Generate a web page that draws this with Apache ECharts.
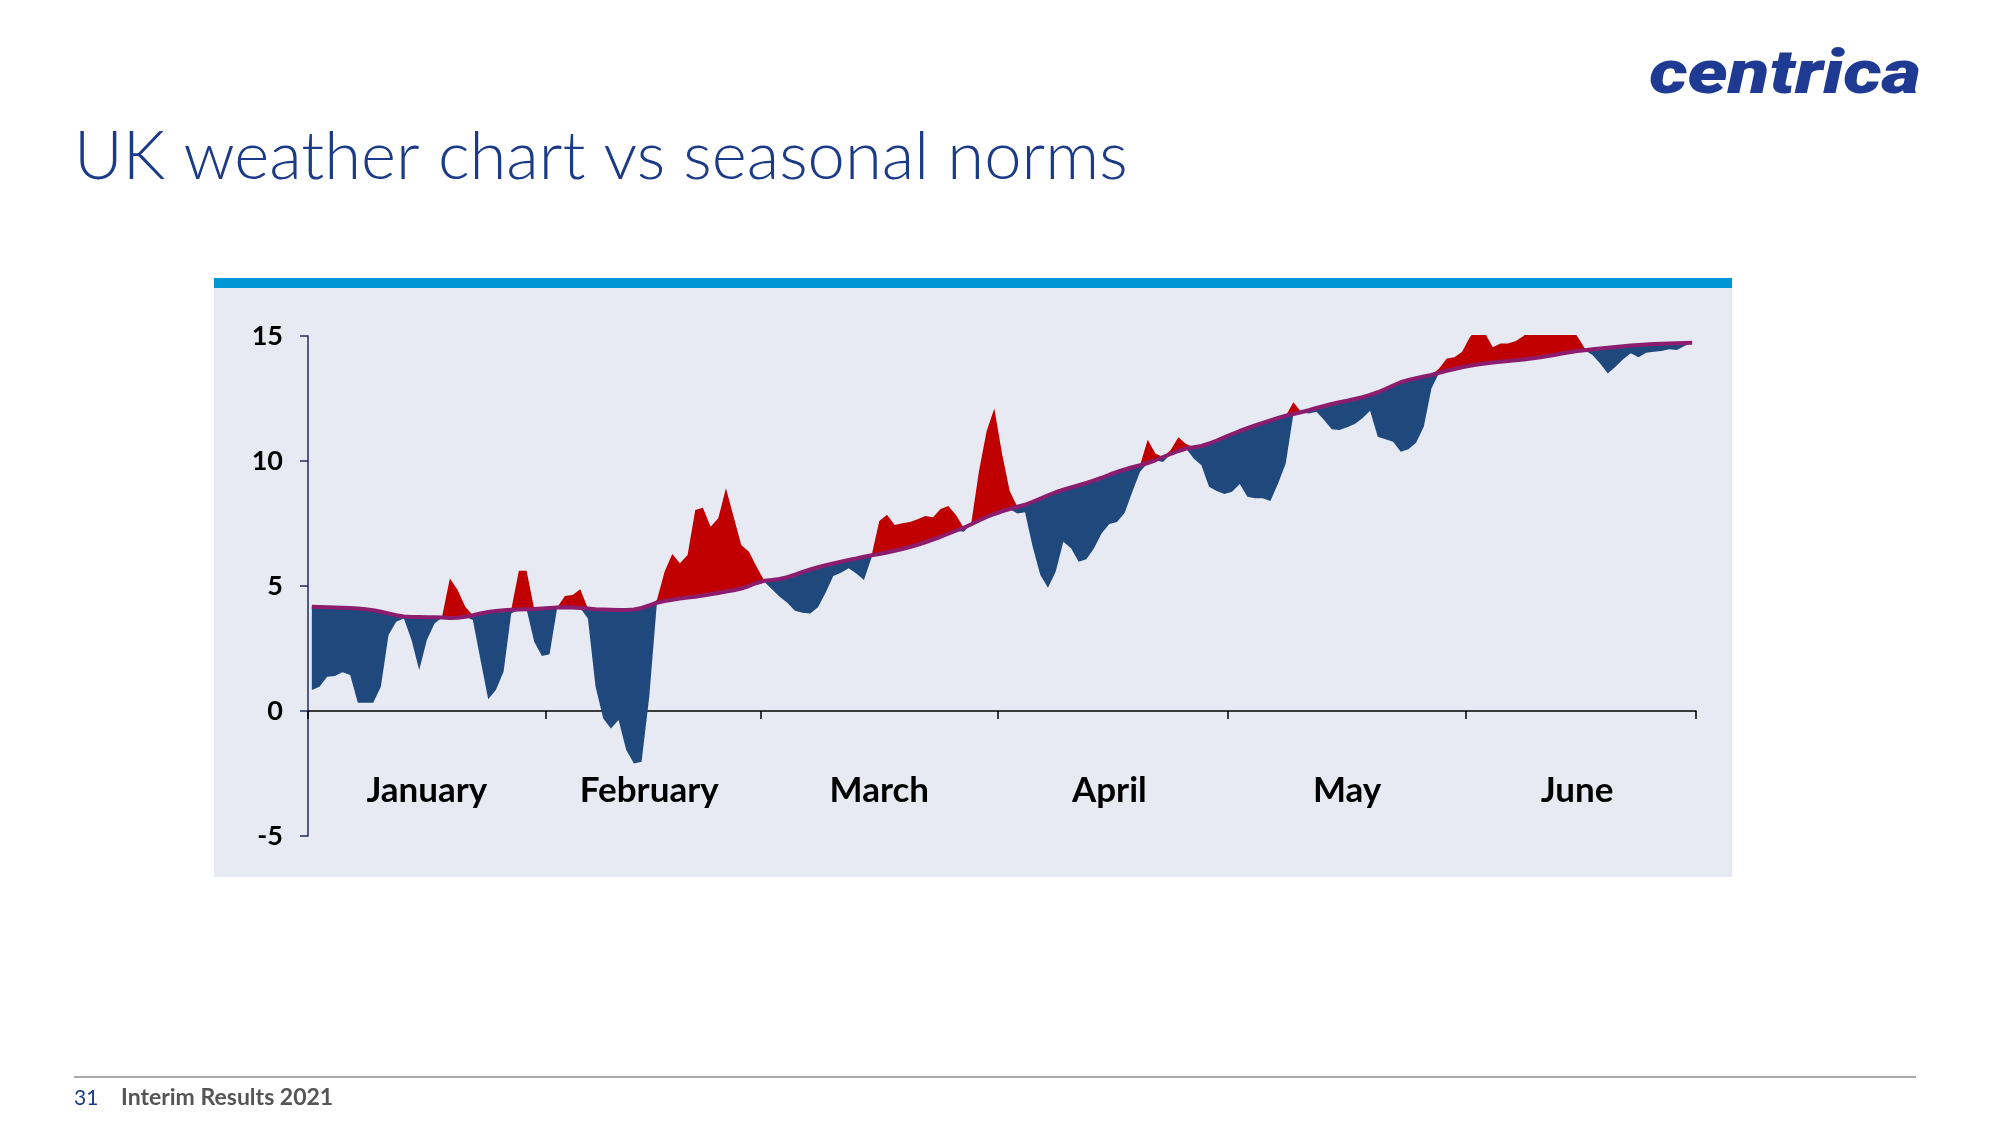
<!DOCTYPE html>
<html><head><meta charset="utf-8">
<script src="https://cdn.jsdelivr.net/npm/echarts@6/dist/echarts.min.js"></script>
<style>html,body{margin:0;padding:0;background:#fff}#c{width:2000px;height:1125px}</style>
</head><body><div id="c"></div>
<script>
const monthNames = ['January','February','March','April','May','June'];
const monthDays = [31, 28, 31, 30, 31, 30];
const yTicks = [-5, 0, 5, 10, 15];

// Seasonal norm (°C), one value per day, 1 Jan – 30 Jun
const norm = [
  4.17,4.16,4.15,4.14,4.13,4.12,4.10,4.07,4.03,3.97,
  3.90,3.83,3.78,3.76,3.76,3.75,3.75,3.74,3.72,3.73,
  3.77,3.83,3.90,3.96,4.00,4.03,4.05,4.06,4.07,4.08,
  4.10,4.12,4.14,4.15,4.14,4.12,4.10,4.07,4.06,4.05,
  4.04,4.04,4.06,4.12,4.22,4.33,4.40,4.45,4.50,4.54,
  4.57,4.62,4.67,4.72,4.78,4.83,4.90,5.00,5.12,5.21,
  5.24,5.28,5.35,5.45,5.56,5.66,5.75,5.83,5.90,5.97,
  6.04,6.10,6.17,6.23,6.28,6.34,6.41,6.48,6.56,6.65,
  6.75,6.86,6.97,7.09,7.21,7.33,7.47,7.62,7.76,7.88,
  7.99,8.08,8.17,8.25,8.37,8.50,8.63,8.75,8.85,8.94,
  9.03,9.12,9.22,9.33,9.45,9.56,9.66,9.75,9.83,9.92,
  10.03,10.16,10.28,10.40,10.50,10.55,10.60,10.70,10.82,10.95,
  11.08,11.20,11.31,11.42,11.52,11.62,11.72,11.81,11.88,11.95,
  12.03,12.12,12.20,12.28,12.35,12.41,12.48,12.55,12.64,12.75,
  12.88,13.02,13.15,13.24,13.31,13.38,13.44,13.53,13.61,13.68,
  13.75,13.81,13.86,13.90,13.94,13.97,14.00,14.03,14.06,14.10,
  14.14,14.19,14.24,14.30,14.35,14.40,14.43,14.47,14.50,14.53,
  14.56,14.59,14.62,14.64,14.66,14.68,14.69,14.70,14.71,14.72,14.73
];

// Actual daily temperature (°C)
const actual = [
  0.84,0.97,1.37,1.40,1.55,1.44,0.33,0.33,0.33,0.97,
  3.04,3.57,3.70,2.84,1.64,2.84,3.50,3.80,5.30,4.85,
  4.17,3.64,2.04,0.47,0.84,1.57,3.90,5.61,5.61,2.77,
  2.20,2.27,4.15,4.60,4.64,4.87,3.70,0.97,-0.30,-0.70,
  -0.36,-1.56,-2.10,-2.03,0.57,4.44,5.57,6.28,5.91,6.24,
  8.04,8.13,7.37,7.71,8.91,7.77,6.64,6.37,5.77,5.17,
  4.87,4.57,4.33,4.01,3.93,3.90,4.15,4.73,5.40,5.53,
  5.71,5.50,5.24,6.15,7.60,7.85,7.44,7.51,7.56,7.67,
  7.80,7.75,8.08,8.20,7.84,7.17,7.53,9.60,11.20,12.10,
  10.30,8.80,7.90,7.95,6.57,5.44,4.93,5.57,6.77,6.51,
  5.97,6.07,6.51,7.11,7.48,7.56,7.93,8.77,9.57,10.85,
  10.30,9.96,10.44,10.95,10.68,10.10,9.83,8.97,8.80,8.68,
  8.77,9.08,8.57,8.51,8.51,8.40,9.10,9.90,12.35,11.97,
  11.90,11.97,11.64,11.27,11.24,11.35,11.48,11.71,12.01,10.97,
  10.87,10.77,10.37,10.47,10.73,11.37,12.90,13.70,14.10,14.15,
  14.37,14.95,15.30,15.10,14.55,14.70,14.70,14.80,15.00,15.30,
  15.40,15.50,15.50,15.40,15.30,15.00,14.50,14.24,13.90,13.50,
  13.77,14.07,14.31,14.15,14.33,14.37,14.40,14.47,14.44,14.60,14.73
];

// build categories and month helpers
const days = [];
const monthStart = [];
const labelAt = {};
let acc = 0;
monthDays.forEach((len, m) => {
  monthStart.push(acc);
  labelAt[Math.floor(acc + len / 2 - 0.5)] = monthNames[m];
  for (let d = 1; d <= len; d++) days.push(d + ' ' + monthNames[m].slice(0, 3));
  acc += len;
});
const startSet = new Set(monthStart);

const base = actual.map((a, i) => Math.min(a, norm[i]));
const below = actual.map((a, i) => Math.max(norm[i] - a, 0));
const above = actual.map((a, i) => Math.max(a - norm[i], 0));

const FONT = 'Lato, "Open Sans", sans-serif';
const chart = echarts.init(document.getElementById('c'), null, {renderer: 'canvas'});
chart.setOption({
  animation: false,
  backgroundColor: '#ffffff',
  grid: {left: 308, top: 336, width: 1388, height: 500, containLabel: false},
  xAxis: {
    type: 'category', data: days, boundaryGap: true,
    axisLine: {onZero: true, lineStyle: {color: '#000', width: 1.5}},
    axisTick: {show: true, length: 8, lineStyle: {color: '#000', width: 1.5},
      interval: (i) => startSet.has(i)},
    axisLabel: {interval: (i) => labelAt[i] !== undefined,
      formatter: (v, i) => labelAt[i] || '',
      margin: -63, fontSize: 35, fontFamily: FONT, fontWeight: 'bold', color: '#000'},
    splitLine: {show: false}
  },
  yAxis: {
    type: 'value', min: yTicks[0], max: yTicks[yTicks.length - 1], interval: 5,
    axisLine: {show: true, lineStyle: {color: '#1F2D5C', width: 1.5}},
    axisTick: {show: true, length: 8, lineStyle: {color: '#1F2D5C', width: 1.5}},
    axisLabel: {margin: 25, fontSize: 27, fontFamily: FONT, fontWeight: 'bold', color: '#000'},
    splitLine: {show: false}
  },
  series: [
    {name: 'base', type: 'line', data: base, stack: 't', stackStrategy: 'all',
      symbol: 'none', lineStyle: {opacity: 0}, silent: true},
    {name: 'Below norm', type: 'line', data: below, stack: 't', stackStrategy: 'all',
      symbol: 'none', lineStyle: {opacity: 0}, areaStyle: {color: '#1F497D', opacity: 1}},
    {name: 'Above norm', type: 'line', data: above, stack: 't', stackStrategy: 'all',
      symbol: 'none', lineStyle: {opacity: 0}, areaStyle: {color: '#C00000', opacity: 1}},
    {name: 'Seasonal norm', type: 'line', data: norm, symbol: 'none', z: 5,
      lineStyle: {color: '#8C1D6E', width: 4}}
  ],
  graphic: [
    {type: 'rect', z: -10, silent: true, shape: {x: 214, y: 288, width: 1518, height: 589},
      style: {fill: '#E7EAF3'}},
    {type: 'rect', z: -10, silent: true, shape: {x: 214, y: 278, width: 1518, height: 10},
      style: {fill: '#0096D6'}},
    {type: 'text', x: 74, y: 157, silent: true,
      style: {text: 'UK weather chart vs seasonal norms', fontSize: 67, fontWeight: 300,
        fontFamily: FONT, fill: '#1B3A87', verticalAlign: 'middle'}},
    {type: 'text', x: 1921, y: 78, scaleX: 1.27, silent: true,
      style: {text: 'centrica', fontSize: 60, fontWeight: 900, fontStyle: 'italic',
        fontFamily: 'Roboto, sans-serif', fill: '#1F3A93', align: 'right', verticalAlign: 'middle'}},
    {type: 'line', silent: true, shape: {x1: 74, y1: 1077, x2: 1916, y2: 1077},
      style: {stroke: '#555', lineWidth: 1.2}},
    {type: 'text', x: 74, y: 1098, silent: true,
      style: {text: '31', fontSize: 21, fontFamily: FONT, fill: '#1B3A87', verticalAlign: 'middle'}},
    {type: 'text', x: 121, y: 1098, silent: true,
      style: {text: 'Interim Results 2021', fontSize: 23, fontWeight: 'bold', fontFamily: FONT,
        fill: '#555', verticalAlign: 'middle'}}
  ]
});
</script></body></html>
